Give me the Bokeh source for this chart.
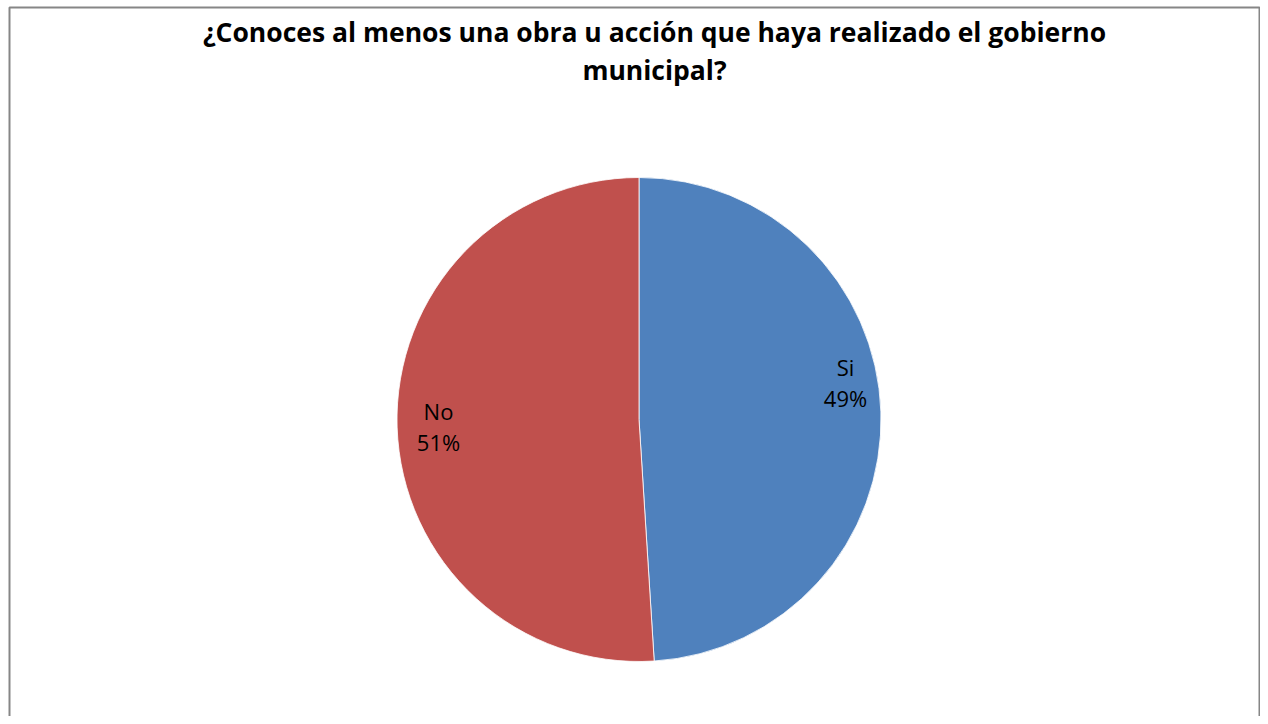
import math
from bokeh.plotting import figure
from bokeh.models import Range1d, ColumnDataSource
from bokeh.core.properties import value
from bokeh.embed import file_html
from bokeh.resources import INLINE

title_lines = ["¿Conoces al menos una obra u acción que haya realizado el gobierno", "municipal?"]
categories = ["Si", "No"]
shares = [49, 51]
colors = ["#4F81BD", "#C0504D"]

W, H = 1260, 716
p = figure(width=W, height=H, output_backend="svg", toolbar_location=None,
           x_range=Range1d(0, W), y_range=Range1d(0, H), min_border=0)
p.axis.visible = False
p.grid.visible = False
p.outline_line_color = None
p.background_fill_color = "white"
p.border_fill_color = "white"

def py(y):  # image-pixel y -> data y
    return H - y

# border (bottom edge is cropped in the reference)
p.multi_line(xs=[[9, 9, 1259, 1259]], ys=[[0, py(7), py(7), 0]],
             line_color="#868686", line_width=2)

cx, cy, r = 638.5, py(419), 242
total = sum(shares)
starts, ends = [], []
a = math.pi / 2
for s in shares:
    starts.append(a)
    a -= 2 * math.pi * s / total
    ends.append(a)
src = ColumnDataSource(dict(start=starts, end=ends, color=colors))
p.wedge(x=cx, y=cy, radius=r, start_angle="start", end_angle="end", direction="clock",
        fill_color="color", line_color="white", line_width=0.8, source=src)

font = value("Open Sans")
p.text(x=[654], y=[py(31)], text=[title_lines[0]], text_font=font, text_font_style="bold",
       text_font_size="26.5px", text_align="center", text_baseline="middle", text_color="black")
p.text(x=[654], y=[py(69)], text=[title_lines[1]], text_font=font, text_font_style="bold",
       text_font_size="26.5px", text_align="center", text_baseline="middle", text_color="black")

label_pos = [(845, 366, 397), (438, 410, 441)]
for cat, sh, (lx, ly1, ly2) in zip(categories, shares, label_pos):
    p.text(x=[lx], y=[py(ly1)], text=[cat], text_font=font, text_font_size="22px",
           text_align="center", text_baseline="middle", text_color="black")
    p.text(x=[lx], y=[py(ly2)], text=[f"{sh}%"], text_font=font, text_font_size="22px",
           text_align="center", text_baseline="middle", text_color="black")

open("out.html", "w").write(file_html(p, INLINE))
